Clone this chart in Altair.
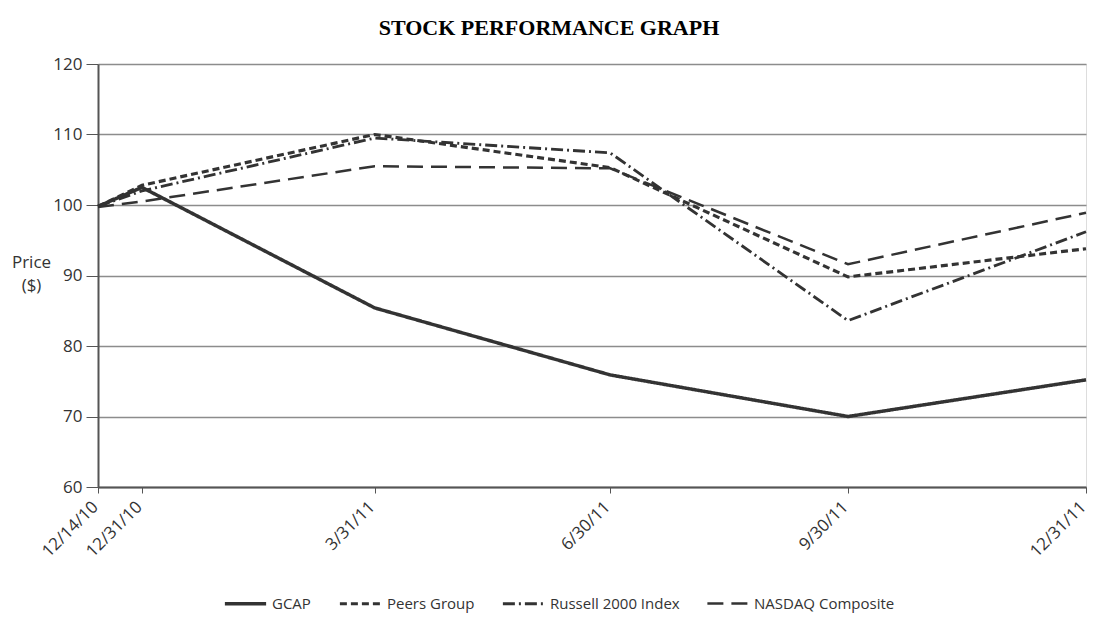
import altair as alt
import pandas as pd

dates = ["12/14/2010", "12/31/2010", "3/31/2011", "6/30/2011", "9/30/2011", "12/31/2011"]
series_names = ["GCAP", "Peers Group", "Russell 2000 Index", "NASDAQ Composite"]
gcap = [99.8, 102.5, 85.4, 75.9, 70.0, 75.2]
peers = [99.8, 102.8, 110.0, 105.3, 89.8, 93.8]
russell = [99.8, 102.0, 109.5, 107.4, 83.6, 96.2]
nasdaq = [99.7, 100.5, 105.5, 105.2, 91.6, 98.9]

rows = []
for name, vals in zip(series_names, [gcap, peers, russell, nasdaq]):
    for d, v in zip(dates, vals):
        rows.append({"date": d, "series": name, "price": v})
df = pd.DataFrame(rows)

tick_vals = [
    alt.DateTime(year=2010, month=12, date=14),
    alt.DateTime(year=2010, month=12, date=31),
    alt.DateTime(year=2011, month=3, date=31),
    alt.DateTime(year=2011, month=6, date=30),
    alt.DateTime(year=2011, month=9, date=30),
    alt.DateTime(year=2011, month=12, date=31),
]

font = "Open Sans"

chart = alt.Chart(df).mark_line(color="#333333", strokeCap="butt").encode(
    x=alt.X(
        "date:T",
        scale=alt.Scale(domain=[tick_vals[0], tick_vals[-1]], nice=False),
        axis=alt.Axis(
            values=tick_vals,
            format="%-m/%-d/%y",
            labelAngle=-45,
            labelAlign="right",
            labelBaseline="middle",
            labelPadding=11,
            labelOffset=-3,
            labelFont=font,
            labelFontSize=17,
            labelColor="#333333",
            tickSize=6,
            tickColor="#555555",
            domainColor="#555555",
            domainWidth=2,
            grid=False,
            title=None,
            labelOverlap=False,
            labelFlush=False,
        ),
    ),
    y=alt.Y(
        "price:Q",
        scale=alt.Scale(domain=[60, 120], nice=False, zero=False),
        axis=alt.Axis(
            values=[60, 70, 80, 90, 100, 110, 120],
            tickSize=12,
            tickColor="#555555",
            domainColor="#555555",
            domainWidth=2,
            labelFont=font,
            labelFontSize=17,
            labelColor="#333333",
            labelPadding=4,
            gridColor="#8c8c8c",
            gridWidth=1.5,
            title=["Price", "($)"],
            titleAngle=0,
            titleFont=font,
            titleFontSize=17,
            titleFontWeight="normal",
            titleColor="#333333",
            titleAlign="center",
            titleBaseline="middle",
            titleLineHeight=23,
            titleX=-67,
            titleY=198,
        ),
    ),
    strokeDash=alt.StrokeDash(
        "series:N",
        scale=alt.Scale(
            domain=series_names,
            range=[[1, 0], [7, 4], [12, 4, 2, 4], [16, 8]],
        ),
        sort=series_names,
        legend=alt.Legend(
            title=None,
            orient="none",
            legendX=125,
            legendY=517,
            direction="horizontal",
            symbolType="stroke",
            symbolSize=1700,
            symbolStrokeColor="#333333",
            symbolStrokeWidth=2.5,
            labelFont=font,
            labelFontSize=15,
            labelColor="#333333",
            columnPadding=22,
            symbolOffset=0,
            labelOffset=4,
        ),
    ),
    strokeWidth=alt.StrokeWidth(
        "series:N",
        scale=alt.Scale(domain=series_names, range=[3.5, 2.5, 1.8, 3.5]),
        sort=series_names,
        legend=None,
    ),
).properties(
    width=988,
    height=423,
    title=alt.TitleParams(
        "STOCK PERFORMANCE GRAPH",
        font="Liberation Serif",
        fontSize=22,
        fontWeight="bold",
        color="#000000",
        anchor="middle",
        dx=-43,
        offset=15,
    ),
    autosize=alt.AutoSizeParams(type="none"),
    padding={"left": 90, "top": 56, "right": 6, "bottom": 146},
).configure_view(stroke=None).configure(background="white")

chart.save("out.html", embed_options={"renderer": "svg", "actions": False})
